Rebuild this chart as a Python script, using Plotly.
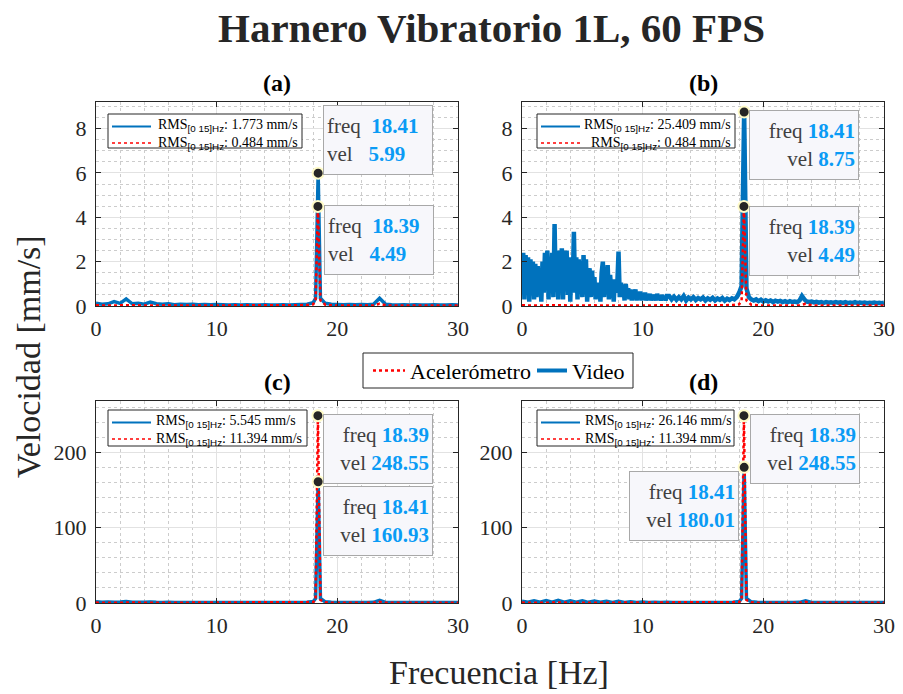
import numpy as np
import plotly.graph_objects as go

# ------------------------------------------------------------------ data
# sparse frequency grid (Hz) for panels a, c, d and accelerometer series
sparse_f_lo = [0, 0.5, 1, 1.5, 2, 2.5, 3, 3.5, 4, 4.5, 5, 5.5, 6, 6.5, 7, 7.5, 8, 8.5,
               9, 9.5, 10, 10.5, 11, 11.5, 12, 12.5, 13, 13.5, 14, 14.5, 15, 15.5, 16,
               16.5, 17, 17.5, 18, 18.2]
sparse_f_hi = [18.6, 19, 19.5, 20, 20.5, 21, 21.5, 22, 22.5, 23, 23.5, 24, 24.5, 25,
               25.5, 26, 26.5, 27, 27.5, 28, 28.5, 29, 29.5, 30]

acc_peak_f = 18.39
vid_peak_f = 18.41

# Accelerometer, 60 FPS (panels a, b)
acc_ab_lo = [0.03, 0.02, 0.03, 0.02, 0.03, 0.04, 0.02, 0.03, 0.02, 0.03, 0.02, 0.02, 0.03,
             0.02, 0.02, 0.03, 0.02, 0.02, 0.03, 0.02, 0.02, 0.02, 0.03, 0.02, 0.02, 0.02,
             0.02, 0.03, 0.02, 0.02, 0.02, 0.03, 0.02, 0.02, 0.03, 0.04, 0.08, 0.25]
acc_ab_pk = 4.49
acc_ab_hi = [0.25, 0.06, 0.03, 0.02, 0.02, 0.03, 0.02, 0.02, 0.02, 0.03, 0.1, 0.03, 0.02,
             0.02, 0.02, 0.02, 0.03, 0.02, 0.02, 0.02, 0.02, 0.03, 0.02, 0.02]

# Accelerometer (panels c, d)
acc_cd_lo = [0.5, 0.3, 0.4, 0.3, 0.4, 0.6, 0.3, 0.4, 0.3, 0.4, 0.3, 0.3, 0.4, 0.3, 0.3,
             0.4, 0.3, 0.3, 0.4, 0.3, 0.3, 0.3, 0.4, 0.3, 0.3, 0.3, 0.3, 0.4, 0.3, 0.3,
             0.3, 0.4, 0.3, 0.3, 0.4, 0.6, 1.2, 4.0]
acc_cd_pk = 248.55
acc_cd_hi = [4.0, 1.0, 0.4, 0.3, 0.3, 0.4, 0.3, 0.3, 0.3, 0.4, 1.5, 0.4, 0.3, 0.3, 0.3,
             0.3, 0.4, 0.3, 0.3, 0.3, 0.3, 0.4, 0.3, 0.3]

# Video (a)
vid_a_lo = [0.12, 0.08, 0.1, 0.2, 0.12, 0.32, 0.1, 0.12, 0.08, 0.18, 0.1, 0.08, 0.1,
            0.06, 0.08, 0.07, 0.08, 0.06, 0.07, 0.06, 0.07, 0.06, 0.05, 0.06, 0.05, 0.06,
            0.05, 0.05, 0.06, 0.05, 0.05, 0.06, 0.05, 0.06, 0.07, 0.08, 0.15, 0.35]
vid_a_pk = 5.99
vid_a_hi = [0.35, 0.12, 0.08, 0.07, 0.06, 0.07, 0.06, 0.07, 0.06, 0.08, 0.35, 0.08, 0.06,
            0.05, 0.06, 0.05, 0.06, 0.05, 0.05, 0.06, 0.05, 0.05, 0.06, 0.05]

# Video (c)
vid_c_lo = [1.5, 1.0, 1.2, 1.0, 1.3, 2.0, 1.0, 1.1, 0.9, 1.2, 0.9, 0.8, 0.9, 0.8, 0.8,
            0.7, 0.8, 0.7, 0.7, 0.7, 0.7, 0.6, 0.6, 0.7, 0.6, 0.6, 0.6, 0.6, 0.6, 0.6,
            0.6, 0.6, 0.6, 0.7, 0.8, 1.0, 2.0, 6.0]
vid_c_pk = 160.93
vid_c_hi = [6.0, 1.5, 0.9, 0.8, 0.7, 0.7, 0.6, 0.7, 0.7, 0.9, 3.5, 0.8, 0.6, 0.6, 0.6,
            0.6, 0.6, 0.6, 0.6, 0.6, 0.6, 0.6, 0.6, 0.6]

# Video (d)
vid_d_lo = [2.5, 1.0, 3.0, 1.2, 3.2, 1.0, 3.5, 1.2, 2.8, 1.0, 3.0, 0.9, 2.5, 1.0, 2.2,
            0.8, 2.4, 0.8, 1.6, 0.7, 1.2, 0.7, 1.0, 0.6, 0.9, 0.6, 0.8, 0.6, 0.7, 0.6,
            0.7, 0.6, 0.7, 0.7, 0.8, 1.0, 2.0, 6.0]
vid_d_pk = 180.01
vid_d_hi = [6.0, 1.5, 0.9, 0.8, 0.7, 0.7, 0.6, 0.7, 0.7, 0.9, 3.0, 0.8, 0.6, 0.6, 0.6,
            0.6, 0.6, 0.6, 0.6, 0.6, 0.6, 0.6, 0.6, 0.6]

# Video (b): dense FFT bins (0.1 Hz up to 12 Hz, 0.2 Hz above)
vid_b_lo = [1.2, 2.4, 0.3, 2.3, 0.8, 2.2, 0.2, 2.1, 1.0, 2.0, 0.3, 1.9,
            0.4, 1.8, 0.7, 1.7, 0.2,
            2.0, 0.6, 2.4, 0.9, 2.5, 0.3, 2.2,
            0.8, 2.4, 0.4, 3.7, 0.7, 2.3,
            0.3, 2.5, 1.0, 2.6, 0.3, 2.5, 0.8, 2.5, 0.5, 2.2,
            0.2, 1.9, 0.8, 3.35, 0.6, 2.2, 0.3, 2.1, 1.0, 2.0,
            0.4, 2.3, 0.7, 2.1, 0.2, 1.5, 1.7, 0.4, 1.6, 0.7,
            1.3, 0.3, 1.0, 0.5, 1.05, 0.2, 1.5, 2.0, 0.4, 1.6,
            0.6, 1.85, 0.3, 1.4, 0.7, 1.2, 0.2, 1.2, 0.6, 1.0,
            2.45, 0.4, 1.05, 0.5, 0.9, 0.25, 1.0, 0.4, 0.8, 0.3,
            0.75, 0.25, 0.7, 0.4, 0.75, 0.25, 0.6, 0.35, 0.65, 0.25,
            0.55, 0.3, 0.6, 0.25, 0.5, 0.35, 0.55, 0.25, 0.5, 0.3,
            0.5, 0.25, 0.55, 0.3, 0.45, 0.25, 0.5, 0.3, 0.45, 0.25, 0.45]
vid_b_mid = [0.45, 0.3, 0.42, 0.28, 0.4, 0.3, 0.45, 0.25, 0.38, 0.3, 0.4, 0.27, 0.36,
             0.3, 0.38, 0.25, 0.35, 0.28, 0.37, 0.25, 0.34, 0.28, 0.36, 0.24, 0.33, 0.27,
             0.35, 0.3, 0.4, 0.6, 0.9]
vid_b_pk = 8.75
vid_b_hi = [0.8, 0.4, 0.3, 0.25, 0.3, 0.22, 0.28, 0.2, 0.26, 0.2, 0.25, 0.18, 0.24, 0.2,
            0.23, 0.18, 0.22, 0.17, 0.22, 0.18, 0.2, 0.17, 0.25, 0.45, 0.3, 0.2, 0.18,
            0.2, 0.16, 0.19, 0.15, 0.18, 0.14, 0.18, 0.15, 0.17, 0.14, 0.18, 0.15, 0.17,
            0.14, 0.17, 0.13, 0.16, 0.14, 0.17, 0.13, 0.16, 0.14, 0.16, 0.13, 0.15, 0.14,
            0.16, 0.13, 0.15, 0.13, 0.15]
vid_b_f_lo = np.round(np.arange(0, 12.0001, 0.1), 2)
vid_b_f_mid = np.round(np.arange(12.2, 18.2001, 0.2), 2)
vid_b_f_hi = np.round(np.arange(18.6, 30.0001, 0.2), 2)

# data tips
tip_f_a = [18.41, 18.39]; tip_v_a = [5.99, 4.49]
tip_f_b = [18.41, 18.39]; tip_v_b = [8.75, 4.49]
tip_f_c = [18.39, 18.41]; tip_v_c = [248.55, 160.93]
tip_f_d = [18.39, 18.41]; tip_v_d = [248.55, 180.01]

rms_vid = ["1.773", "25.409", "5.545", "26.146"]
rms_acc = ["0.484", "0.484", "11.394", "11.394"]
panel_labels = ["(a)", "(b)", "(c)", "(d)"]
x_ticks = [0, 10, 20, 30]
y_ticks_top = [0, 2, 4, 6, 8]
y_ticks_bot = [0, 100, 200]

# ------------------------------------------------------------------ style
W, H = 903, 694
FONT = "Liberation Serif"
BLUE = "#0072BD"
RED = "#FF0000"
INK = "#262626"
VAL = "#0a9bf5"


def px(x):
    return x / W


def py(y):
    return 1 - y / H


def T(s, fam=FONT):
    return f"<span style='font-family:{fam}'>{s}</span>"


def sparse(lo, pf, pk, hi):
    return list(sparse_f_lo) + [pf] + list(sparse_f_hi), list(lo) + [pk] + list(hi)


series = {
    "a": (sparse(vid_a_lo, vid_peak_f, vid_a_pk, vid_a_hi),
          sparse(acc_ab_lo, acc_peak_f, acc_ab_pk, acc_ab_hi)),
    "b": ((list(vid_b_f_lo) + list(vid_b_f_mid) + [vid_peak_f] + list(vid_b_f_hi),
           vid_b_lo + vid_b_mid + [vid_b_pk] + vid_b_hi),
          sparse(acc_ab_lo, acc_peak_f, acc_ab_pk, acc_ab_hi)),
    "c": (sparse(vid_c_lo, vid_peak_f, vid_c_pk, vid_c_hi),
          sparse(acc_cd_lo, acc_peak_f, acc_cd_pk, acc_cd_hi)),
    "d": (sparse(vid_d_lo, vid_peak_f, vid_d_pk, vid_d_hi),
          sparse(acc_cd_lo, acc_peak_f, acc_cd_pk, acc_cd_hi)),
}
tips = {"a": (tip_f_a, tip_v_a), "b": (tip_f_b, tip_v_b),
        "c": (tip_f_c, tip_v_c), "d": (tip_f_d, tip_v_d)}

# panel geometry in pixels: (left, right, top, bottom)
geom = {"a": (96, 458, 102, 306), "b": (522, 884, 102, 306),
        "c": (96, 458, 401, 603), "d": (522, 884, 401, 603)}
yrng = {"a": [0, 9.2], "b": [0, 9.2], "c": [0, 268], "d": [0, 268]}
yticks = {"a": y_ticks_top, "b": y_ticks_top, "c": y_ticks_bot, "d": y_ticks_bot}
ymin = {"a": 0.5, "b": 0.5, "c": 20, "d": 20}
vid_w = {"a": 3.5, "b": 4.5, "c": 3.5, "d": 3.5}
# panel legend box: (left, top, right, bottom, text align)
legbox = {"a": (108, 114, 302, 148, "right"), "b": (537, 114, 735, 148, "right"),
          "c": (108, 410, 307, 446, "left"), "d": (537, 410, 734, 446, "left")}
# data-tip box placement: (xanchor, yanchor, xshift, yshift, align)
tipbox = {
    "a": [("left", "bottom", 5, -2, "left"), ("left", "top", 6, 1, "left")],
    "b": [("left", "top", 5, 2, "right"), ("left", "top", 5, 0, "right")],
    "c": [("left", "top", 5, 2, "right"), ("left", "top", 5, -4, "right")],
    "d": [("left", "top", 6, 2, "right"), ("right", "top", -5, -4, "right")],
}

fig = go.Figure()
layout = dict(width=W, height=H, margin=dict(l=0, r=0, t=0, b=0, autoexpand=False),
              paper_bgcolor="white", plot_bgcolor="white",
              font=dict(family=FONT, color=INK), showlegend=False)
annotations = []
shapes = []

for i, k in enumerate(["a", "b", "c", "d"]):
    sfx = "" if i == 0 else str(i + 1)
    xa, ya = "x" + sfx, "y" + sfx
    l, r, t, b = geom[k]
    (vf, vv), (af, av) = series[k]
    fig.add_trace(go.Scatter(x=vf, y=vv, mode="lines", name="Video",
                             line=dict(color=BLUE, width=vid_w[k], simplify=False),
                             xaxis=xa, yaxis=ya, hoverinfo="skip"))
    fig.add_trace(go.Scatter(x=af, y=av, mode="lines", name="Acelerómetro",
                             line=dict(color=RED, width=2.5, dash="dot"), xaxis=xa, yaxis=ya,
                             hoverinfo="skip"))
    # data tips
    tf, tv = tips[k]
    fig.add_trace(go.Scatter(x=tf, y=tv, mode="markers", xaxis=xa, yaxis=ya,
                             marker=dict(color="#262626", size=11,
                                         line=dict(color="#fffbc8", width=2)),
                             hoverinfo="skip", cliponaxis=False))
    for j in range(2):
        xan, yan, xs, ys, al = tipbox[k][j]
        fs, vs = f"{tf[j]:.2f}", f"{tv[j]:.2f}"
        if al == "left":
            g1, g2 = "\u00a0\u00a0", "\u00a0\u00a0\u00a0"
        else:
            g1, g2 = "\u00a0", "\u00a0"
        txt = (f"<span style='font-family:{FONT};color:#404040'>freq</span>{g1}"
               f"<span style='font-family:{FONT};color:{VAL}'><b>{fs}</b></span><br>"
               f"<span style='font-family:{FONT};color:#404040'>vel</span>{g2}"
               f"<span style='font-family:{FONT};color:{VAL}'><b>{vs}</b></span>")
        annotations.append(dict(x=tf[j], y=tv[j], xref=xa, yref=ya, text=txt,
                                showarrow=False, xanchor=xan, yanchor=yan,
                                xshift=xs, yshift=ys, align=al, valign="middle",
                                width=102, height=62, borderpad=3,
                                bgcolor="#f7f7fb", bordercolor="#a8a8a8", borderwidth=1,
                                font=dict(family=FONT, size=21)))

    # panel legend (RMS values)
    bl, bt, br, bb, bal = legbox[k]
    shapes.append(dict(type="rect", xref="paper", yref="paper", x0=px(bl), x1=px(br),
                       y0=py(bb), y1=py(bt), line=dict(color=INK, width=1),
                       fillcolor="white", layer="above"))
    r1, r2 = bt + 12.5, bt + 29
    shapes.append(dict(type="line", xref="paper", yref="paper", x0=px(bl + 4),
                       x1=px(bl + 43), y0=py(r1), y1=py(r1),
                       line=dict(color=BLUE, width=2), layer="above"))
    shapes.append(dict(type="line", xref="paper", yref="paper", x0=px(bl + 4),
                       x1=px(bl + 43), y0=py(r2), y1=py(r2),
                       line=dict(color=RED, width=1.5, dash="dot"), layer="above"))
    sub = "<sub>" + T("[0 15]Hz", "Liberation Sans") + "</sub>"
    ltxt = (T("RMS") + sub + T(f": {rms_vid[i]} mm/s") + "<br>" +
            T("RMS") + sub + T(f": {rms_acc[i]} mm/s"))
    if bal == "right":
        annotations.append(dict(x=px(br - 2), y=py((r1 + r2) / 2), xref="paper",
                                yref="paper", text=ltxt, showarrow=False,
                                xanchor="right", yanchor="middle", align="right",
                                font=dict(family=FONT, size=14, color="black")))
    else:
        annotations.append(dict(x=px(bl + 46), y=py((r1 + r2) / 2), xref="paper",
                                yref="paper", text=ltxt, showarrow=False,
                                xanchor="left", yanchor="middle", align="left",
                                font=dict(family=FONT, size=14, color="black")))

    axis_common = dict(showline=True, linecolor=INK, linewidth=1, mirror="ticks",
                       ticks="inside", ticklen=5, tickcolor=INK, zeroline=False,
                       showgrid=True, gridcolor="#e2e2e2", gridwidth=1,
                       automargin=False,
                       tickfont=dict(family=FONT, size=22, color=INK))
    layout["xaxis" + sfx] = dict(axis_common, domain=[px(l), px(r)], range=[0, 30],
                                 tickmode="array", tickvals=x_ticks,
                                 ticktext=[T(v) for v in x_ticks], anchor=ya,
                                 ticklabelstandoff=3,
                                 minor=dict(dtick=2, tick0=0, showgrid=True,
                                            gridcolor="#cccccc", griddash="dot",
                                            gridwidth=1))
    layout["yaxis" + sfx] = dict(axis_common, domain=[py(b), py(t)], range=yrng[k],
                                 tickmode="array", tickvals=yticks[k],
                                 ticktext=[T(v) for v in yticks[k]], anchor=xa,
                                 ticklabelstandoff=4,
                                 minor=dict(dtick=ymin[k], tick0=0, showgrid=True,
                                            gridcolor="#cccccc", griddash="dot",
                                            gridwidth=1))
    annotations.append(dict(x=px((l + r) / 2), y=py(t - 19), xref="paper", yref="paper",
                            text=T(f"<b>{panel_labels[i]}</b>"), showarrow=False,
                            xanchor="center", yanchor="middle",
                            font=dict(family=FONT, size=24, color="black")))

# shared legend (Acelerómetro / Video)
lt, lb = 353, 388
lc = (lt + lb) / 2
shapes += [
    dict(type="rect", xref="paper", yref="paper", x0=px(363), x1=px(633),
         y0=py(lb), y1=py(lt), line=dict(color=INK, width=1), fillcolor="white",
         layer="above"),
    dict(type="line", xref="paper", yref="paper", x0=px(373), x1=px(405), y0=py(lc),
         y1=py(lc), line=dict(color=RED, width=2.5, dash="dot"), layer="above"),
    dict(type="line", xref="paper", yref="paper", x0=px(537), x1=px(567), y0=py(lc),
         y1=py(lc), line=dict(color=BLUE, width=4), layer="above"),
]
annotations += [
    dict(x=px(408), y=py(lc + 1), xref="paper", yref="paper", text=T("Acelerómetro"),
         showarrow=False, xanchor="left", yanchor="middle",
         font=dict(family=FONT, size=22, color="black")),
    dict(x=px(570), y=py(lc + 1), xref="paper", yref="paper", text=T("Video"),
         showarrow=False, xanchor="left", yanchor="middle",
         font=dict(family=FONT, size=22, color="black")),
    dict(x=px(491), y=py(28), xref="paper", yref="paper",
         text=T("<b>Harnero Vibratorio 1L, 60 FPS</b>"), showarrow=False,
         xanchor="center", yanchor="middle", font=dict(family=FONT, size=41, color=INK)),
    dict(x=px(28), y=py(357), xref="paper", yref="paper", text=T("Velocidad [mm/s]"),
         textangle=-90, showarrow=False, xanchor="center", yanchor="middle",
         font=dict(family=FONT, size=34, color=INK)),
    dict(x=px(499), y=py(672), xref="paper", yref="paper", text=T("Frecuencia [Hz]"),
         showarrow=False, xanchor="center", yanchor="middle",
         font=dict(family=FONT, size=34, color=INK)),
]
layout["annotations"] = annotations
layout["shapes"] = shapes
fig.update_layout(**layout)
fig.write_html("out.html", config={"displayModeBar": False},
               post_script="document.body.style.margin='0';"
                           "document.documentElement.style.margin='0';")
